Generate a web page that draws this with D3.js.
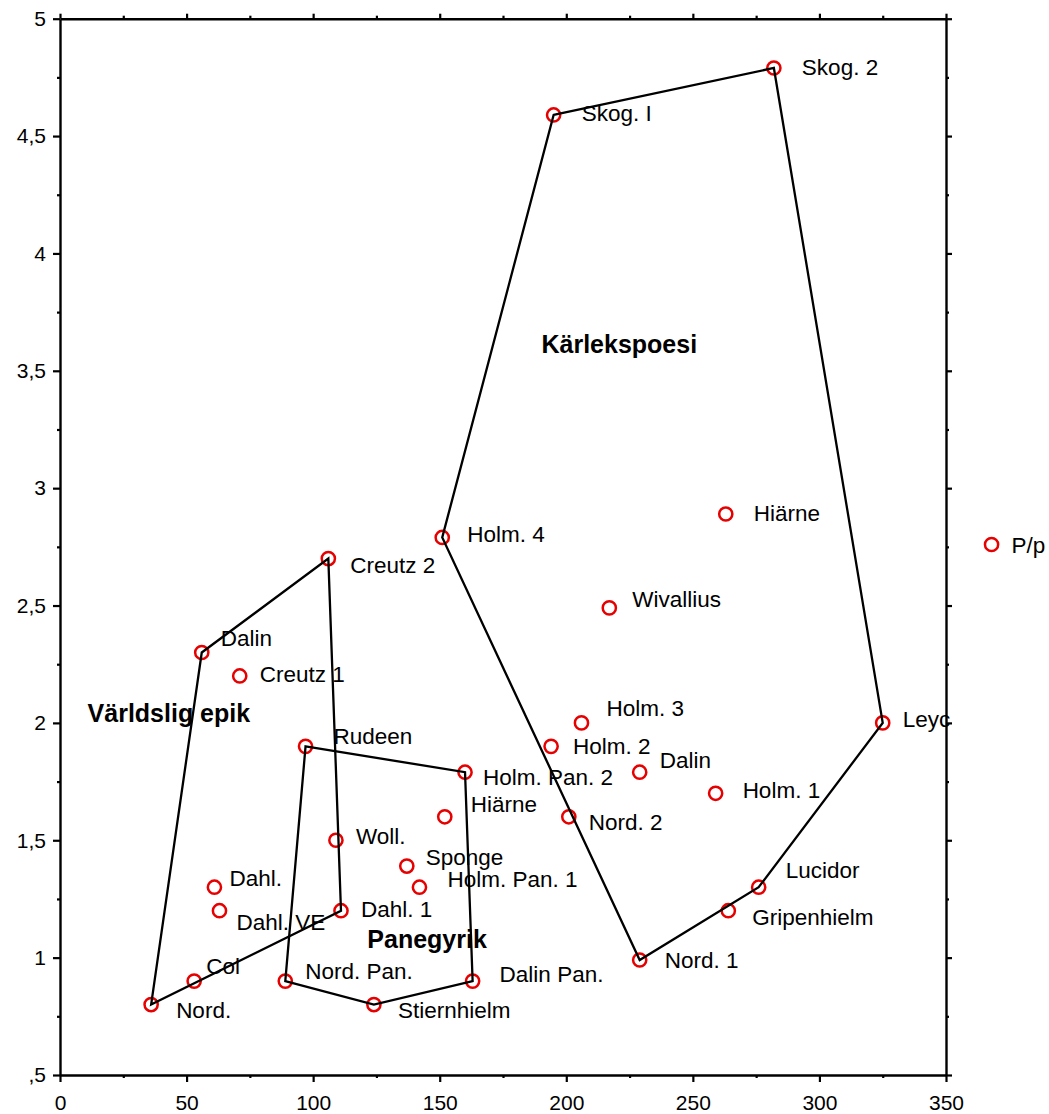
<!DOCTYPE html>
<html><head><meta charset="utf-8">
<script src="https://cdn.jsdelivr.net/npm/d3@7"></script>
<style>
body{margin:0;background:#fff}
svg{display:block}
text{font-family:"Liberation Sans",Arial,Helvetica,sans-serif;fill:#000}
</style>
</head><body>
<svg id="chart" width="1049" height="1114"></svg>
<script>
// ---- data ----
const pointIds = ["skog1","skog2","holm4","hiarne1","pp","creutz2","wivallius","dalin1","creutz1","holm3","leyc","rudeen","holm2","holmpan2","dalin2","holm1","hiarne2","nord2","woll","sponge","dahl","holmpan1","lucidor","dahlve","dahl1","gripenhielm","nord1","col","nordpan","dalinpan","nord","stiernhielm"];
const pointNames = ["Skog. I","Skog. 2","Holm. 4","Hiärne","P/p","Creutz 2","Wivallius","Dalin","Creutz 1","Holm. 3","Leyc","Rudeen","Holm. 2","Holm. Pan. 2","Dalin","Holm. 1","Hiärne","Nord. 2","Woll.","Sponge","Dahl.","Holm. Pan. 1","Lucidor","Dahl. VE","Dahl. 1","Gripenhielm","Nord. 1","Col","Nord. Pan.","Dalin Pan.","Nord.","Stiernhielm"];
const xValues = [195,282,151,263,368,106,217,56,71,206,325,97,194,160,229,259,152,201,109,137,61,142,276,63,111,264,229,53,89,163,36,124];
const yValues = [4.59,4.79,2.79,2.89,2.76,2.70,2.49,2.30,2.20,2.00,2.00,1.90,1.90,1.79,1.79,1.70,1.60,1.60,1.50,1.39,1.30,1.30,1.30,1.20,1.20,1.20,0.99,0.90,0.90,0.90,0.80,0.80];

const groupNames = ["Kärlekspoesi","Världslig epik","Panegyrik"];
const groupHulls = [
  ["skog1","skog2","leyc","lucidor","nord1","holm4"],
  ["nord","dalin1","creutz2","dahl1"],
  ["rudeen","holmpan2","dalinpan","stiernhielm","nordpan"]
];
const groupLabelX = [190.2, 10.9, 121.4];
const groupLabelY = [3.577, 2.005, 1.04];

const xTicks = [0,50,100,150,200,250,300,350];
const xMinorTicks = [25,75,125,175,225,275,325];
const yTicks = [0.5,1,1.5,2,2.5,3,3.5,4,4.5,5];
const yTickLabels = [",5","1","1,5","2","2,5","3","3,5","4","4,5","5"];
const yMinorTicks = [0.75,1.25,1.75,2.25,2.75,3.25,3.75,4.25,4.75];

// ---- layout (label offsets in px from point centre) ----
const labelOffsets = [[28,6],[28,7],[25,5],[28,7],[20,8],[22,14],[23,-1],[19,-6],[20,6],[25,-7],[20,4],[28,-2],[22,8],[18,13],[20,-4],[27,5],[26,-5],[20,13],[20,4],[19,-1],[15,-1],[28,0],[27,-9],[17,19],[20,6],[24,14],[25,8],[12,-7],[20,-2],[27,1],[25,13],[24,13]];

const W = 1049, H = 1114;
const m = {left:60, top:18.7, right:103, bottom:39};
const svg = d3.select("#chart");
const x = d3.scaleLinear().domain([0,350]).range([m.left, W - m.right]);
const y = d3.scaleLinear().domain([0.5,5]).range([H - m.bottom, m.top]);

const pts = pointIds.map((id,i)=>({id, name:pointNames[i], x:xValues[i], y:yValues[i], off:labelOffsets[i]}));
const byId = Object.fromEntries(pts.map(p=>[p.id,p]));

// circles
svg.append("g").selectAll("circle").data(pts).join("circle")
  .attr("cx", d=>x(d.x)).attr("cy", d=>y(d.y)).attr("r", 6.6)
  .attr("fill","none").attr("stroke","#e60000").attr("stroke-width",2.5);

// hull polygons
const line = d3.line().x(d=>x(d.x)).y(d=>y(d.y)).curve(d3.curveLinearClosed);
svg.append("g").selectAll("path").data(groupHulls).join("path")
  .attr("d", h=>line(h.map(id=>byId[id])))
  .attr("fill","none").attr("stroke","#000").attr("stroke-width",2.3).attr("stroke-linejoin","miter");

// point labels
svg.append("g").selectAll("text").data(pts).join("text")
  .attr("x", d=>x(d.x)+d.off[0]).attr("y", d=>y(d.y)+d.off[1])
  .attr("font-size",22.5).text(d=>d.name);

// group labels
svg.append("g").selectAll("text").data(groupNames).join("text")
  .attr("x",(d,i)=>x(groupLabelX[i])).attr("y",(d,i)=>y(groupLabelY[i]))
  .attr("font-size",25).attr("font-weight","bold").text(d=>d);

// axes
function styleAxis(g){
  g.select(".domain").attr("stroke","#000").attr("stroke-width",2.4);
  g.selectAll(".tick line").attr("stroke","#000").attr("stroke-width",2.2);
  g.selectAll(".tick text").attr("font-size",21).attr("fill","#000")
    .attr("font-family",'"Liberation Sans",Arial,sans-serif');
}
const yh = H - m.bottom, xr = W - m.right;
// bottom
svg.append("g").attr("transform",`translate(0,${yh})`)
  .call(d3.axisBottom(x).tickValues(xMinorTicks).tickSize(3).tickSizeOuter(0).tickFormat(""))
  .call(g=>g.select(".domain").remove()).call(styleAxis);
svg.append("g").attr("transform",`translate(0,${yh})`)
  .call(d3.axisBottom(x).tickValues(xTicks).tickSize(7).tickSizeOuter(0).tickPadding(13).tickFormat(d3.format("d")))
  .call(styleAxis);
// top
svg.append("g").attr("transform",`translate(0,${m.top})`)
  .call(d3.axisTop(x).tickValues(xMinorTicks).tickSize(3).tickSizeOuter(0).tickFormat(""))
  .call(g=>g.select(".domain").remove()).call(styleAxis);
svg.append("g").attr("transform",`translate(0,${m.top})`)
  .call(d3.axisTop(x).tickValues(xTicks).tickSize(5).tickSizeOuter(0).tickFormat(""))
  .call(styleAxis);
// left
svg.append("g").attr("transform",`translate(${m.left},0)`)
  .call(d3.axisLeft(y).tickValues(yMinorTicks).tickSize(3).tickSizeOuter(0).tickFormat(""))
  .call(g=>g.select(".domain").remove()).call(styleAxis);
svg.append("g").attr("transform",`translate(${m.left},0)`)
  .call(d3.axisLeft(y).tickValues(yTicks).tickSize(7).tickSizeOuter(0).tickPadding(7)
        .tickFormat(d=>yTickLabels[yTicks.indexOf(d)]))
  .call(styleAxis);
// right
svg.append("g").attr("transform",`translate(${xr},0)`)
  .call(d3.axisRight(y).tickValues(yMinorTicks).tickSize(3).tickSizeOuter(0).tickFormat(""))
  .call(g=>g.select(".domain").remove()).call(styleAxis);
svg.append("g").attr("transform",`translate(${xr},0)`)
  .call(d3.axisRight(y).tickValues(yTicks).tickSize(6).tickSizeOuter(0).tickFormat(""))
  .call(styleAxis);
</script>
</body></html>
